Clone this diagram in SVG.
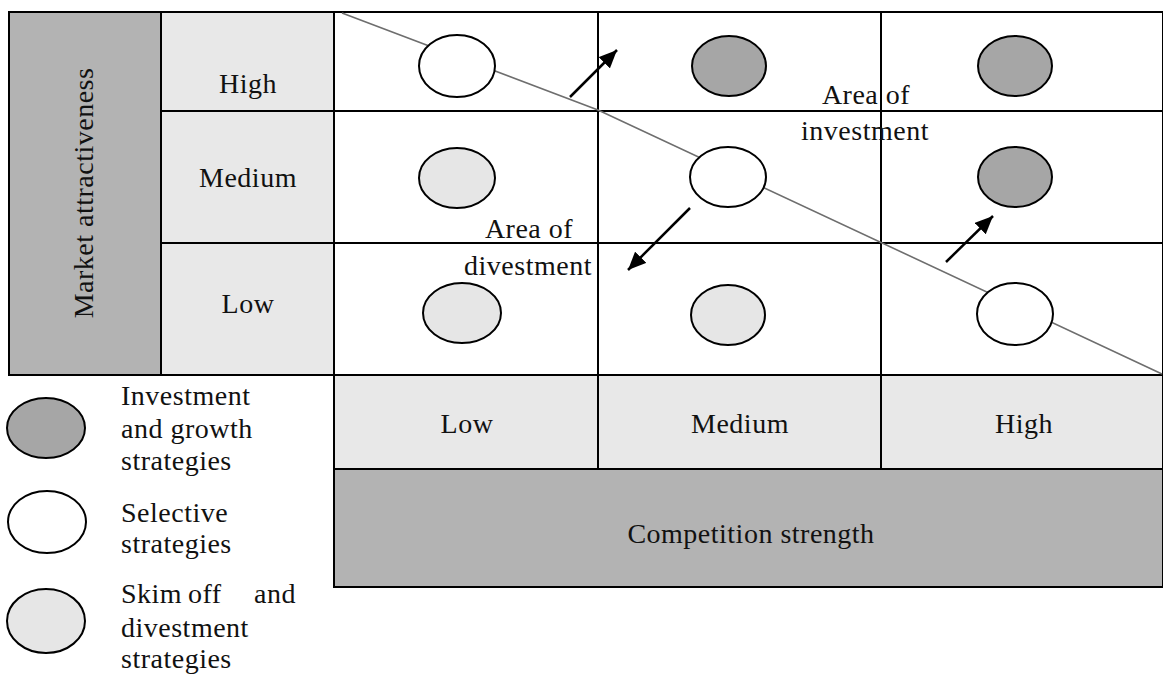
<svg xmlns="http://www.w3.org/2000/svg" width="1163" height="680" viewBox="0 0 1163 680">
<style>
.t{font-family:"Liberation Serif","DejaVu Serif",serif;font-size:28px;fill:#111;letter-spacing:0.5px}
.c{text-anchor:middle}
.cell{stroke:#000;stroke-width:2}
.dk{fill:#b3b3b3}
.lt{fill:#e8e8e8}
.wh{fill:#fff}
.e{stroke:#000;stroke-width:2}
.eg{fill:#a6a6a6}
.el{fill:#e6e6e6}
.ew{fill:#fff}
.arr{stroke:#000;stroke-width:2.5;fill:none;marker-end:url(#ah)}
</style>
<defs>
<marker id="ah" markerUnits="userSpaceOnUse" markerWidth="20" markerHeight="16" refX="18" refY="8" orient="auto">
<path d="M0,0 L18,8 L0,16 Z" fill="#000"/>
</marker>
</defs>
<rect width="1163" height="680" fill="#fff"/>

<g id="axis-y">
<rect class="cell dk" x="9" y="12" width="152" height="363"/>
<text class="t c" transform="translate(93,193) rotate(-90)">Market attractiveness</text>
</g>

<g id="row-labels">
<rect class="cell lt" x="161" y="12" width="173" height="99"/>
<rect class="cell lt" x="161" y="111" width="173" height="132"/>
<rect class="cell lt" x="161" y="243" width="173" height="132"/>
<text class="t c" x="248" y="93">High</text>
<text class="t c" x="248" y="187">Medium</text>
<text class="t c" x="248" y="313">Low</text>
</g>

<g id="grid">
<rect class="cell wh" x="334" y="12" width="264" height="99"/>
<rect class="cell wh" x="598" y="12" width="283" height="99"/>
<rect class="cell wh" x="881" y="12" width="282" height="99"/>
<rect class="cell wh" x="334" y="111" width="264" height="132"/>
<rect class="cell wh" x="598" y="111" width="283" height="132"/>
<rect class="cell wh" x="881" y="111" width="282" height="132"/>
<rect class="cell wh" x="334" y="243" width="264" height="132"/>
<rect class="cell wh" x="598" y="243" width="283" height="132"/>
<rect class="cell wh" x="881" y="243" width="282" height="132"/>
</g>

<g id="col-labels">
<rect class="cell lt" x="334" y="375" width="264" height="94"/>
<rect class="cell lt" x="598" y="375" width="283" height="94"/>
<rect class="cell lt" x="881" y="375" width="282" height="94"/>
<text class="t c" x="467" y="433">Low</text>
<text class="t c" x="740" y="433">Medium</text>
<text class="t c" x="1024" y="433">High</text>
</g>

<g id="axis-x">
<rect class="cell dk" x="334" y="469" width="829" height="118"/>
<text class="t c" x="751" y="543">Competition strength</text>
</g>

<g id="divider">
<polyline points="342,13 598,110 1162,374" fill="none" stroke="#6e6e6e" stroke-width="1.6"/>
</g>

<g id="bubbles">
<ellipse class="e ew" cx="457" cy="66" rx="38" ry="31"/>
<ellipse class="e eg" cx="729" cy="66" rx="37" ry="30"/>
<ellipse class="e eg" cx="1015" cy="66" rx="37" ry="30"/>
<ellipse class="e el" cx="457" cy="178" rx="38" ry="30"/>
<ellipse class="e ew" cx="728" cy="177" rx="38" ry="30"/>
<ellipse class="e eg" cx="1015" cy="177" rx="37" ry="30"/>
<ellipse class="e el" cx="462" cy="313" rx="39" ry="30"/>
<ellipse class="e el" cx="728" cy="315" rx="37" ry="30"/>
<ellipse class="e ew" cx="1015" cy="314" rx="38" ry="31"/>
</g>

<g id="area-investment">
<text class="t c" x="866" y="104">Area of</text>
<text class="t c" x="865" y="140">investment</text>
</g>
<g id="area-divestment">
<text class="t c" x="529" y="238">Area of</text>
<text class="t c" x="528" y="275">divestment</text>
</g>

<g id="connectors">
<line class="arr" x1="570" y1="97" x2="617" y2="50"/>
<line class="arr" x1="690" y1="208" x2="628" y2="270"/>
<line class="arr" x1="946" y1="262" x2="993" y2="216"/>
</g>

<g id="legend">
<ellipse class="e eg" cx="46" cy="428" rx="39" ry="30"/>
<ellipse class="e ew" cx="47" cy="522" rx="39" ry="31"/>
<ellipse class="e el" cx="46" cy="621" rx="39" ry="32"/>
<text class="t" x="121" y="405">Investment</text>
<text class="t" x="121" y="438">and growth</text>
<text class="t" x="121" y="470">strategies</text>
<text class="t" x="121" y="522">Selective</text>
<text class="t" x="121" y="553">strategies</text>
<text class="t"><tspan x="121" y="603">Skim</tspan><tspan x="188" y="603">off</tspan><tspan x="254" y="603">and</tspan></text>
<text class="t" x="121" y="637">divestment</text>
<text class="t" x="121" y="668">strategies</text>
</g>
</svg>
